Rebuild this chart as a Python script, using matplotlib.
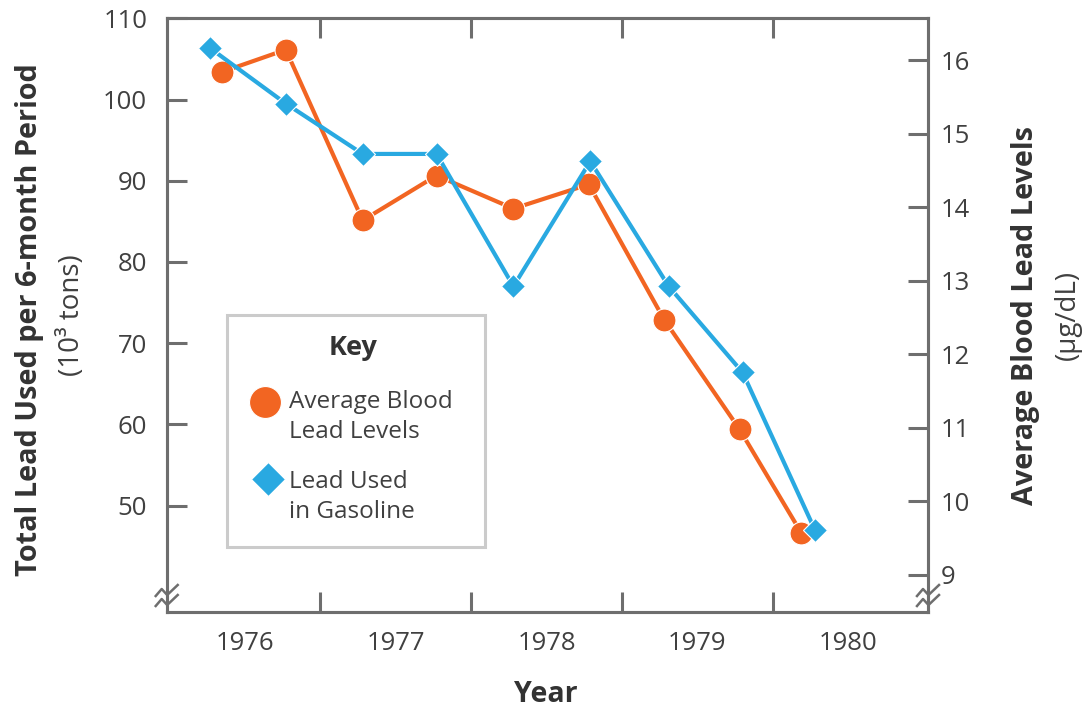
import matplotlib
matplotlib.use("Agg")
import matplotlib.pyplot as plt
from matplotlib.patches import Rectangle

plt.rcParams['font.family'] = ['Open Sans', 'DejaVu Sans']

# ---- data ----
gas_x = [1976.27, 1976.77, 1977.28, 1977.77, 1978.28, 1978.79, 1979.31, 1979.80, 1980.28]
gas_lead = [106.3, 99.5, 93.3, 93.3, 77.0, 92.4, 77.0, 66.4, 47.0]          # 10^3 tons
blood_x = [1976.35, 1976.77, 1977.28, 1977.77, 1978.28, 1978.78, 1979.28, 1979.78, 1980.19]
blood_lead = [15.84, 16.14, 13.82, 14.43, 13.98, 14.31, 12.47, 10.98, 9.57]  # ug/dL
year_labels = ['1976', '1977', '1978', '1979', '1980']
year_label_pos = [1976.5, 1977.5, 1978.5, 1979.5, 1980.5]
year_ticks = [1977, 1978, 1979, 1980]
left_ticks = [50, 60, 70, 80, 90, 100, 110]
right_ticks = [9, 10, 11, 12, 13, 14, 15, 16]

ORANGE = '#F26522'
BLUE = '#29A9E1'
AXC = '#6E6E6E'
TXT = '#404040'
DARK = '#333333'

W, H = 1083, 710
fig = plt.figure(figsize=(W / 100, H / 100), dpi=100)
x0, x1, yt, yb = 166.7, 928.0, 18.3, 612.0
ax = fig.add_axes([x0 / W, 1 - yb / H, (x1 - x0) / W, (yb - yt) / H])
ax2 = ax.twinx()
ax.set_zorder(ax2.get_zorder() + 1)
ax.patch.set_visible(False)

ax.set_xlim(1975.98, 1981.03)
ax.set_ylim(36.9, 110)
ax2.set_ylim(8.497, 16.567)

# lines
ax2.plot(blood_x, blood_lead, color=ORANGE, lw=3.0, marker='o', ms=16.5,
         mfc=ORANGE, mec='white', mew=0.8, zorder=3)
ax.plot(gas_x, gas_lead, color=BLUE, lw=3.0, marker='D', ms=12.3,
        mfc=BLUE, mec='white', mew=0.8, zorder=4)

# spines
for a in (ax, ax2):
    for s in a.spines.values():
        s.set_color(AXC)
        s.set_linewidth(2.2)

tick_kw = dict(direction='in', length=14.5, width=2.2, color=AXC, labelcolor=TXT, labelsize=18.5)
ax.set_yticks(left_ticks)
ax.tick_params(axis='y', which='major', left=True, right=False, pad=14, **tick_kw)
ax2.set_yticks(right_ticks)
ax2.tick_params(axis='y', which='major', left=False, right=True, pad=9, **tick_kw)

ax.set_xticks(year_ticks)
ax.set_xticks(year_label_pos, minor=True)
ax.set_xticklabels([])
ax.set_xticklabels(year_labels, minor=True)
ax.tick_params(axis='x', which='major', top=True, bottom=True, direction='in', length=14.5,
               width=2.2, color=AXC)
ax.tick_params(axis='x', which='minor', length=0, pad=14, labelsize=18.5, labelcolor=TXT)
ax2.tick_params(axis='x', which='both', top=False, bottom=False)

# break marks
def px(xp, yp):
    return ((xp - x0) / (x1 - x0), (yb - yp) / (yb - yt))

for cx in (x0, x1):
    for dy in (0, 10):
        pts = [(cx - 11, 596 + dy), (cx - 5, 589 + dy), (cx + 0.5, 595 + dy), (cx + 11, 585 + dy)]
        xs, ys = zip(*[px(*p) for p in pts])
        ax.plot(xs, ys, transform=ax.transAxes, color=AXC, lw=1.8, clip_on=False, zorder=6)

# key box
lx0, ly0 = px(226.7, 546.7)
lx1, ly1 = px(485, 315)
ax.add_patch(Rectangle((lx0, ly0), lx1 - lx0, ly1 - ly0, transform=ax.transAxes,
                       fill=True, facecolor='white', edgecolor='#CBCBCB', lw=2.2, zorder=5))
kx, ky = px(353, 348)
ax.text(kx, ky, 'Key', transform=ax.transAxes, ha='center', va='center',
        fontsize=19.5, fontweight='bold', color=DARK, zorder=6)
mx, my = px(265, 402)
ax.plot([mx], [my], transform=ax.transAxes, marker='o', ms=23, color=ORANGE,
        mec='white', mew=0.8, ls='none', zorder=6)
mx, my = px(268, 479)
ax.plot([mx], [my], transform=ax.transAxes, marker='D', ms=17.5, color=BLUE,
        mec='white', mew=0.8, ls='none', zorder=6)
tx, ty = px(289, 417)
ax.text(tx, ty, 'Average Blood\nLead Levels', transform=ax.transAxes, ha='left', va='center',
        fontsize=17.5, color=TXT, linespacing=1.3, zorder=6)
tx, ty = px(289, 497)
ax.text(tx, ty, 'Lead Used\nin Gasoline', transform=ax.transAxes, ha='left', va='center',
        fontsize=17.5, color=TXT, linespacing=1.3, zorder=6)

# axis titles
fig.text(30 / W, 1 - 320 / H, 'Total Lead Used per 6-month Period', rotation=90,
         ha='center', va='center', fontsize=20.8, fontweight='bold', color=DARK)
fig.text(72 / W, 1 - 315 / H, '(10³ tons)', rotation=90,
         ha='center', va='center', fontsize=20, color=TXT)
fig.text(1025 / W, 1 - 315 / H, 'Average Blood Lead Levels', rotation=90,
         ha='center', va='center', fontsize=20.8, fontweight='bold', color=DARK)
fig.text(1068 / W, 1 - 315 / H, '(µg/dL)', rotation=90,
         ha='center', va='center', fontsize=20, color=TXT)
fig.text(546 / W, 1 - 695 / H, 'Year', ha='center', va='center',
         fontsize=20.5, fontweight='bold', color=DARK)

fig.savefig('out.png', dpi=100)
